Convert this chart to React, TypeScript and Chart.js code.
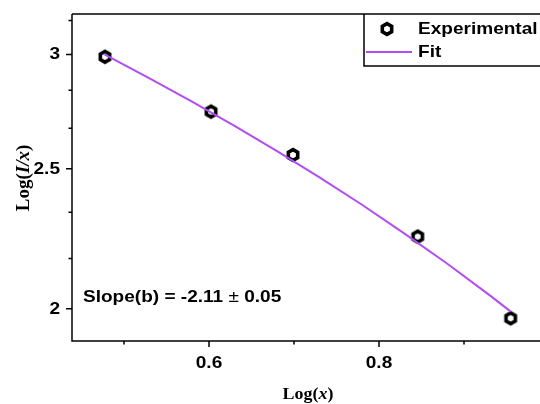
import React, { useEffect, useRef } from 'react';
import { Chart, registerables } from 'chart.js';

Chart.register(...registerables);

// ---- data ----
const expX = [0.4776, 0.6024, 0.6988, 0.8455, 0.9549];
const expY = [2.989, 2.739, 2.556, 2.244, 1.970];
const fitX = [0.477, 0.53, 0.58, 0.63, 0.68, 0.73, 0.78, 0.83, 0.88, 0.93, 0.955];
const fitY = [3.0, 2.888, 2.783, 2.677, 2.572, 2.466, 2.361, 2.255, 2.150, 2.044, 1.991];
const xMajorTicks = [0.6, 0.8];
const xMinorTicks = [0.5, 0.7, 0.9];
const yMajorTicks = [2, 2.5, 3];
const yMinorTicks = [2.1667, 2.3333, 2.6667, 2.8333, 3.1667];
const xRange = [0.4388, 0.9894];
const yRange = [1.9, 3.2];
const legendLabels = ['Experimental', 'Fit'];
const annotationParts = ['Slope(b) = -2.11 ', '\u00B1', ' 0.05'];

const SANS = '"Liberation Sans", Arial, sans-serif';
const SERIF = '"Liberation Serif", "Times New Roman", serif';
const SX = 1.12;
const PURPLE = '#b24cf5';

function makeHex(): HTMLCanvasElement {
  const c = document.createElement('canvas');
  c.width = 18;
  c.height = 18;
  const g = c.getContext('2d')!;
  g.beginPath();
  for (let i = 0; i < 6; i++) {
    const a = -Math.PI / 2 + (i * Math.PI) / 3;
    const px = 9 + 5.4 * Math.cos(a);
    const py = 9 + 5.4 * Math.sin(a);
    if (i === 0) g.moveTo(px, py);
    else g.lineTo(px, py);
  }
  g.closePath();
  g.fillStyle = '#fff';
  g.fill();
  g.lineWidth = 3.6;
  g.strokeStyle = '#000';
  g.stroke();
  return c;
}

type Seg = { t: string; font: string };

function drawSegs(ctx: CanvasRenderingContext2D, segs: Seg[], x: number, y: number, align: 'left' | 'center' | 'right', sx: number) {
  ctx.save();
  ctx.translate(x, y);
  ctx.scale(sx, 1);
  ctx.textBaseline = 'middle';
  ctx.textAlign = 'left';
  let total = 0;
  for (const s of segs) {
    ctx.font = s.font;
    total += ctx.measureText(s.t).width;
  }
  let cx = align === 'left' ? 0 : align === 'center' ? -total / 2 : -total;
  for (const s of segs) {
    ctx.font = s.font;
    ctx.fillText(s.t, cx, 0);
    cx += ctx.measureText(s.t).width;
  }
  ctx.restore();
}

export default function App() {
  const ref = useRef<HTMLCanvasElement>(null);

  useEffect(() => {
    const canvas = ref.current!;
    const hex = makeHex();

    const framePlugin = {
      id: 'frame',
      afterDraw(chart: any) {
        const ctx: CanvasRenderingContext2D = chart.ctx;
        const a = chart.chartArea;
        const xs = chart.scales.x;
        const ys = chart.scales.y;
        ctx.save();
        ctx.strokeStyle = '#000';
        ctx.fillStyle = '#000';
        ctx.lineWidth = 1.5;
        ctx.beginPath();
        ctx.moveTo(a.left, a.top);
        ctx.lineTo(a.right + 10, a.top);
        ctx.moveTo(a.left, a.top);
        ctx.lineTo(a.left, a.bottom);
        ctx.lineTo(a.right + 10, a.bottom);
        ctx.stroke();
        ctx.beginPath();
        for (const v of xMajorTicks) {
          const p = xs.getPixelForValue(v);
          ctx.moveTo(p, a.bottom);
          ctx.lineTo(p, a.bottom + 6);
        }
        for (const v of xMinorTicks) {
          const p = xs.getPixelForValue(v);
          ctx.moveTo(p, a.bottom);
          ctx.lineTo(p, a.bottom + 3.5);
        }
        for (const v of yMajorTicks) {
          const p = ys.getPixelForValue(v);
          ctx.moveTo(a.left, p);
          ctx.lineTo(a.left - 6, p);
        }
        for (const v of yMinorTicks) {
          const p = ys.getPixelForValue(v);
          ctx.moveTo(a.left, p);
          ctx.lineTo(a.left - 3.5, p);
        }
        ctx.stroke();

        const tf = `bold 17px ${SANS}`;
        for (const v of xMajorTicks) {
          drawSegs(ctx, [{ t: String(v), font: tf }], xs.getPixelForValue(v), 363, 'center', SX);
        }
        for (const v of yMajorTicks) {
          drawSegs(ctx, [{ t: String(v), font: tf }], a.left - 12, ys.getPixelForValue(v), 'right', SX);
        }

        const bf = `bold 16px ${SERIF}`;
        const bi = `italic bold 16px ${SERIF}`;
        drawSegs(ctx, [
          { t: 'Log(', font: bf },
          { t: 'x', font: bi },
          { t: ')', font: bf },
        ], 308, 395, 'center', SX);

        ctx.save();
        ctx.translate(24, 178);
        ctx.rotate(-Math.PI / 2);
        const bf2 = `bold 19px ${SERIF}`;
        const bi2 = `italic bold 19px ${SERIF}`;
        drawSegs(ctx, [
          { t: 'Log(', font: bf2 },
          { t: 'I/x', font: bi2 },
          { t: ')', font: bf2 },
        ], 0, 0, 'center', 1);
        ctx.restore();

        drawSegs(ctx, [
          { t: annotationParts[0], font: tf },
          { t: annotationParts[1], font: `17px ${SANS}` },
          { t: annotationParts[2], font: tf },
        ], 83, 297, 'left', SX);

        ctx.lineWidth = 1.5;
        ctx.strokeStyle = '#000';
        ctx.beginPath();
        ctx.moveTo(364, a.top);
        ctx.lineTo(364, 66);
        ctx.lineTo(a.right + 10, 66);
        ctx.stroke();
        ctx.drawImage(hex, 387 - 9, 29 - 9);
        ctx.strokeStyle = PURPLE;
        ctx.lineWidth = 2;
        ctx.beginPath();
        ctx.moveTo(366, 52);
        ctx.lineTo(412, 52);
        ctx.stroke();
        drawSegs(ctx, [{ t: legendLabels[0], font: tf }], 418, 29, 'left', SX);
        drawSegs(ctx, [{ t: legendLabels[1], font: tf }], 418, 52.5, 'left', SX);
        ctx.restore();
      },
    };

    const chart = new Chart(canvas, {
      type: 'scatter',
      data: {
        datasets: [
          {
            label: legendLabels[1],
            type: 'line',
            data: fitX.map((x, i) => ({ x, y: fitY[i] })),
            borderColor: PURPLE,
            borderWidth: 2,
            pointRadius: 0,
            fill: false,
            tension: 0,
          } as any,
          {
            label: legendLabels[0],
            data: expX.map((x, i) => ({ x, y: expY[i] })),
            pointStyle: hex as any,
            pointRadius: 7,
            showLine: false,
          },
        ],
      },
      options: {
        responsive: false,
        animation: false,
        events: [],
        layout: { padding: { top: 14, right: 0, left: 0, bottom: 0 } },
        plugins: {
          legend: { display: false },
          tooltip: { enabled: false },
        },
        scales: {
          x: {
            type: 'linear',
            min: xRange[0],
            max: xRange[1],
            grid: { display: false },
            border: { display: false },
            ticks: { display: false },
            afterFit: (s: any) => {
              s.height = 63;
            },
          },
          y: {
            type: 'logarithmic',
            min: yRange[0],
            max: yRange[1],
            grid: { display: false },
            border: { display: false },
            ticks: { display: false },
            afterFit: (s: any) => {
              s.width = 72;
            },
          },
        },
      } as any,
      plugins: [framePlugin],
    });
    return () => chart.destroy();
  }, []);

  return (
    <div style={{ position: 'absolute', left: 0, top: 0, width: 540, height: 404, overflow: 'hidden', background: '#fff' }}>
      <canvas ref={ref} width={548} height={404} style={{ display: 'block' }} />
    </div>
  );
}
